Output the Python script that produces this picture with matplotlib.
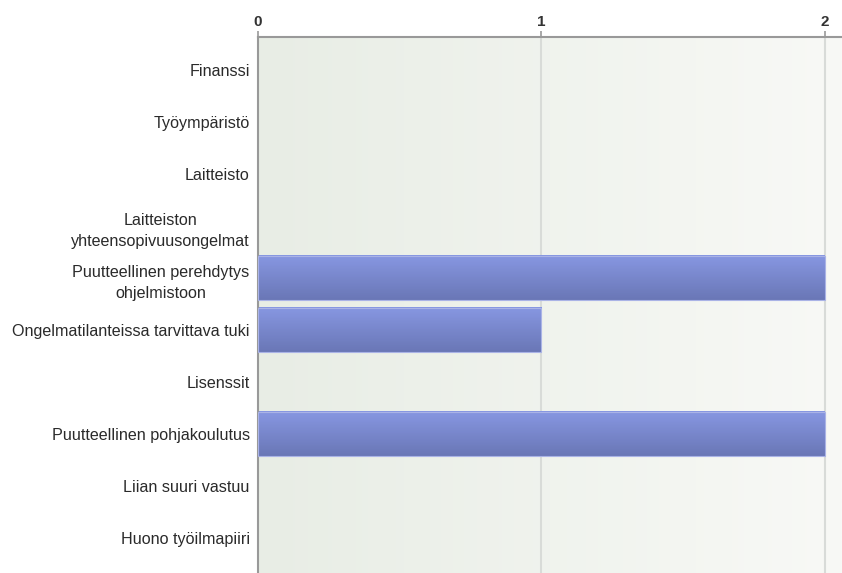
import numpy as np
import matplotlib.pyplot as plt
from matplotlib.colors import LinearSegmentedColormap

categories = [
    "Finanssi",
    "Työympäristö",
    "Laitteisto",
    "Laitteiston\nyhteensopivuusongelmat",
    "Puutteellinen perehdytys\nohjelmistoon",
    "Ongelmatilanteissa tarvittava tuki",
    "Lisenssit",
    "Puutteellinen pohjakoulutus",
    "Liian suuri vastuu",
    "Huono työilmapiiri",
]
counts = [0, 0, 0, 0, 2, 1, 0, 2, 0, 0]
ticks = [0, 1, 2]

plt.rcParams['font.family'] = ['Liberation Sans', 'DejaVu Sans']

fig = plt.figure(figsize=(8.42, 5.73), dpi=100)
ax = fig.add_axes([258 / 842, 0, 1 - 258 / 842, 1 - 37 / 573])

x_max = 2.06
y_top, y_bot = -0.635, 9.67
ax.set_xlim(0, x_max)
ax.set_ylim(y_bot, y_top)

# background gradient, greenish on the left fading to near white
bg = LinearSegmentedColormap.from_list("bg", ["#e8ede5", "#f8f9f6"])
ax.imshow(np.linspace(0, 1, 256).reshape(1, -1), cmap=bg, aspect="auto",
          extent=[0, x_max, y_bot, y_top], zorder=0)

for t in ticks[1:]:
    ax.axvline(t, color="#d8dbd8", lw=1.5, zorder=1)

# bars with a vertical gradient
bar_cmap = LinearSegmentedColormap.from_list("bar", ["#8797e2", "#6a77b6"])
h = 0.85
grad = np.linspace(0, 1, 64).reshape(-1, 1)
for i, v in enumerate(counts):
    if v <= 0:
        continue
    ax.imshow(grad, cmap=bar_cmap, aspect="auto",
              extent=[0, v, i + h / 2, i - h / 2], zorder=2)
    ax.add_patch(plt.Rectangle((0, i - h / 2), v, h, fill=False,
                               edgecolor="#aab3e6", lw=0.8, zorder=3))

ax.set_xlim(0, x_max)
ax.set_ylim(y_bot, y_top)

ax.xaxis.tick_top()
ax.set_xticks(ticks)
ax.tick_params(axis="x", length=4, color="#999999", labelsize=11,
               labelcolor="#333333", pad=2, width=1.2)
for lbl in ax.get_xticklabels():
    lbl.set_fontweight("bold")
ax.set_yticks(range(len(categories)))
ax.set_yticklabels(categories, fontsize=11.6, color="#2a2a2a",
                   multialignment="center", linespacing=1.55)
ax.tick_params(axis="y", length=0, pad=6)

for s in ["right", "bottom"]:
    ax.spines[s].set_visible(False)
ax.spines["top"].set_color("#999999")
ax.spines["top"].set_linewidth(1.5)
ax.spines["left"].set_color("#999999")
ax.spines["left"].set_linewidth(1.5)

plt.savefig("out.png", dpi=100)
